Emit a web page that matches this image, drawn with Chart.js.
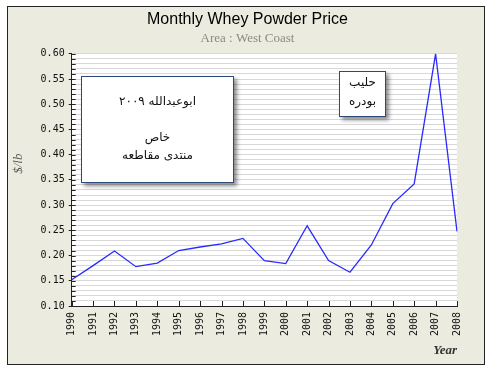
<!DOCTYPE html>
<html>
<head>
<meta charset="utf-8">
<script src="https://cdn.jsdelivr.net/npm/chart.js@4.4.1/dist/chart.umd.min.js"></script>
<style>
  html, body { margin: 0; padding: 0; background: #fff; }
  canvas { display: block; }
</style>
</head>
<body>
<canvas id="chart" width="492" height="366"></canvas>
<script>
// data
const years = ['1990','1991','1992','1993','1994','1995','1996','1997','1998','1999',
               '2000','2001','2002','2003','2004','2005','2006','2007','2008'];
const prices = [0.152, 0.180, 0.209, 0.178, 0.185, 0.210, 0.217, 0.223, 0.234, 0.190,
                0.184, 0.259, 0.190, 0.167, 0.221, 0.303, 0.342, 0.600, 0.248];
const yMin = 0.10, yMax = 0.60, yStep = 0.01, yLabelStep = 0.05;

const noteBig = ['ابوعبدالله ٢٠٠٩', '', 'خاص', 'منتدى مقاطعه'];
const noteSmall = ['حليب', 'بودره'];

const BEIGE = '#ecebdf';
const MONO = '"DejaVu Sans Mono", monospace';

const isMajor = v => Math.abs(Math.round(v / yLabelStep) * yLabelStep - v) < 1e-6;

// background, frame, white plot area, inner ticks and the two notes
const framePlugin = {
  id: 'frame',
  beforeDraw(chart) {
    const c = chart.ctx, a = chart.chartArea;
    c.save();
    c.fillStyle = '#fff';
    c.fillRect(0, 0, chart.width, chart.height);
    c.fillStyle = BEIGE;
    c.fillRect(7, 6, 478, 359);
    c.strokeStyle = '#222';
    c.lineWidth = 1;
    c.strokeRect(7.5, 6.5, 477, 358);
    c.fillStyle = '#fff';
    c.fillRect(a.left, a.top, a.right - a.left, a.bottom - a.top);
    c.restore();
  },
  afterDraw(chart) {
    const c = chart.ctx, a = chart.chartArea;
    const y = chart.scales.y, x = chart.scales.x;
    c.save();
    c.strokeStyle = '#222';
    c.lineWidth = 1;
    c.beginPath();
    y.ticks.forEach(t => {
      const py = Math.round(y.getPixelForValue(t.value)) + 0.5;
      c.moveTo(a.left, py);
      c.lineTo(a.left + 4, py);
    });
    x.ticks.forEach((t, i) => {
      const px = Math.round(x.getPixelForTick(i)) + 0.5;
      c.moveTo(px, a.bottom);
      c.lineTo(px, a.bottom - 5);
    });
    c.stroke();

    const box = (bx, by, bw, bh, lines, lh, cy) => {
      c.save();
      c.shadowColor = 'rgba(0,0,0,0.45)';
      c.shadowBlur = 4;
      c.shadowOffsetX = 3;
      c.shadowOffsetY = 3;
      c.fillStyle = '#fff';
      c.fillRect(bx, by, bw, bh);
      c.restore();
      c.strokeStyle = '#2b4a78';
      c.strokeRect(bx + 0.5, by + 0.5, bw - 1, bh - 1);
      c.fillStyle = '#111';
      c.font = '12px "DejaVu Sans", sans-serif';
      c.textAlign = 'center';
      c.textBaseline = 'middle';
      lines.forEach((s, i) => c.fillText(s, bx + bw / 2, cy + i * lh));
    };
    box(81, 76, 153, 107, noteBig, 18, 102);
    box(339, 71, 47, 46, noteSmall, 19, 83);
    c.restore();
  }
};

new Chart(document.getElementById('chart'), {
  type: 'line',
  data: {
    labels: years,
    datasets: [{
      data: prices,
      borderColor: '#2a2aff',
      borderWidth: 1.3,
      pointRadius: 0,
      tension: 0,
      fill: false
    }]
  },
  options: {
    responsive: false,
    animation: false,
    layout: { padding: { left: 11, right: 8, top: 0, bottom: 8 } },
    plugins: {
      legend: { display: false },
      tooltip: { enabled: false },
      title: {
        display: true,
        text: 'Monthly Whey Powder Price',
        color: '#000',
        font: { family: '"Liberation Sans", Arial, sans-serif', size: 16, weight: 'normal' },
        padding: { top: 10, bottom: 2 }
      },
      subtitle: {
        display: true,
        text: 'Area : West Coast',
        color: '#8c8c7c',
        font: { family: '"Liberation Serif", serif', size: 13 },
        padding: { top: 0, bottom: 7 }
      }
    },
    scales: {
      x: {
        offset: false,
        grid: { display: true, drawOnChartArea: false, drawTicks: false },
        border: { display: true, color: '#222' },
        ticks: {
          color: '#111',
          font: { family: MONO, size: 10 },
          minRotation: 90, maxRotation: 90,
          autoSkip: false,
          padding: 6
        },
        title: {
          display: true,
          text: 'Year',
          align: 'end',
          color: '#333',
          font: { family: '"Liberation Serif", serif', size: 13, style: 'italic', weight: 'bold' },
          padding: { top: 0, bottom: 0 }
        },
        afterFit(scale) { scale.height = 52; }
      },
      y: {
        min: yMin,
        max: yMax,
        afterBuildTicks(scale) {
          const t = [];
          for (let v = yMin; v <= yMax + 1e-9; v += yStep) t.push({ value: Math.round(v * 100) / 100 });
          scale.ticks = t;
        },
        grid: {
          color: '#d8d8d8',
          drawTicks: true,
          tickLength: 3,
          tickColor: ctx => isMajor(ctx.tick.value) ? '#222' : 'rgba(0,0,0,0)'
        },
        border: { display: true, color: '#222' },
        ticks: {
          autoSkip: false,
          color: '#111',
          font: { family: MONO, size: 10 },
          padding: 4,
          callback: v => isMajor(v) ? v.toFixed(2) : ''
        },
        title: {
          display: true,
          text: '          $/lb',
          color: '#555',
          font: { family: '"Liberation Serif", serif', size: 13, style: 'italic' },
          padding: { top: 0, bottom: 10 }
        }
      },
      // empty right-hand spacer so the plot ends where the reference does
      yRight: {
        position: 'right',
        display: true,
        min: yMin,
        max: yMax,
        grid: { display: false, drawTicks: false },
        border: { display: false },
        ticks: { display: false },
        afterFit(scale) { scale.width = 27; }
      }
    }
  },
  plugins: [framePlugin]
});
</script>
</body>
</html>
